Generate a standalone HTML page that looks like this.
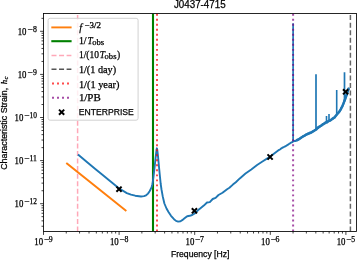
<!DOCTYPE html>
<html><head><meta charset="utf-8"><style>
html,body{margin:0;padding:0;background:#fff;width:357px;height:260px;overflow:hidden}
svg{display:block}
</style></head><body>
<svg width="357" height="260" viewBox="0 0 357 260">
<rect width="357" height="260" fill="#fff"/>
<g clip-path="url(#ax)">
<defs><clipPath id="ax"><rect x="43.5" y="13.5" width="313.0" height="218.0"/></clipPath></defs>
<line x1="77.6" y1="231.5" x2="77.6" y2="13.5" stroke="#ffa8b8" stroke-width="1.5" stroke-dasharray="5 2.55"/>
<line x1="153.0" y1="231.5" x2="153.0" y2="13.5" stroke="#008000" stroke-width="2.1"/>
<line x1="67.0" y1="163.6" x2="125.6" y2="210.3" stroke="#ff7f0e" stroke-width="1.9" stroke-linecap="square"/>
<polyline points="78.00,154.60 86.00,161.30 95.30,169.00 103.00,175.30 110.00,180.90 118.90,188.30 126.80,193.10 131.00,194.70 135.20,195.70 141.00,196.50 144.00,196.10 146.10,195.30 148.00,193.60 149.60,191.30 150.80,189.00 151.60,187.10 152.30,184.50 152.80,182.00 153.50,176.50 154.30,170.00 155.10,162.50 155.90,155.00 156.50,150.00 156.90,148.30 157.30,150.00 157.90,155.00 158.60,162.50 159.30,170.00 160.00,177.00 160.70,184.00 161.50,189.50 162.70,196.20 164.40,203.50 166.50,208.50 168.50,212.00 171.00,215.80 174.00,219.20 176.00,220.90 178.10,221.60 180.50,221.20 183.00,219.60 185.50,217.60 187.20,216.30 189.70,215.80 192.20,215.00 194.70,213.50 198.20,210.10 200.50,208.30 203.80,205.60 207.00,202.50 209.80,202.10 212.70,199.00 215.60,197.90 218.50,195.00 222.50,192.70 227.10,189.20 229.40,187.80 232.90,184.60 235.80,182.30 239.80,178.40 245.50,173.60 251.30,169.40 257.10,165.00 262.80,161.30 267.40,158.40 270.20,156.60 272.90,154.40 277.50,150.90 277.50,150.91 278.10,150.58 278.70,150.08 279.30,149.77 279.90,149.50 280.50,149.12 281.10,148.53 281.70,148.17 282.30,147.77 282.90,147.56 283.50,147.12 284.10,146.92 284.70,146.66 285.30,146.24 285.90,146.03 286.50,145.69 287.10,145.16 287.70,144.91 288.30,144.42 288.90,144.06 289.50,143.62 290.10,143.33 290.70,142.85 291.30,142.44 291.90,142.29 292.50,142.11 293.10,141.41 293.70,141.01 294.30,141.01 294.90,141.20 295.50,141.00 296.10,140.59 296.70,140.50 297.30,140.24 297.90,139.67 298.50,139.16 299.10,139.19 299.70,138.71 300.30,138.15 300.90,137.62 301.50,137.38 302.10,137.04 302.70,136.46 303.30,136.12 303.90,135.94 304.50,136.04 305.10,135.39 305.70,134.70 306.30,134.34 306.90,134.28 307.50,133.71 308.10,133.43 308.70,133.58 309.30,132.73 309.90,133.01 310.50,132.58 311.10,132.77 311.70,132.48 312.30,132.05 312.90,131.70 313.50,130.90 314.10,130.96 314.70,130.15 315.30,130.13 315.90,129.43 316.50,129.11 317.10,127.94 317.70,127.56 318.30,128.07 318.90,126.66 319.50,126.93 320.10,126.49 320.70,126.22 321.30,125.49 321.90,125.29 322.50,124.17 323.10,123.80 323.70,123.59 324.30,123.14 324.90,122.68 325.50,122.33 326.10,122.53 326.70,121.66 327.30,122.41 327.90,121.72 328.50,121.21 329.10,121.13 329.70,120.19 330.30,120.81 330.90,120.33 331.50,119.75 332.10,118.97 332.70,119.05 333.30,118.49 333.90,117.94 334.50,117.87 335.10,116.94 335.70,115.82 336.30,115.34 336.90,114.10 337.50,113.36 338.10,113.36 338.70,112.65 339.30,112.10 339.90,111.12 340.50,109.87 341.10,108.18 341.70,107.43 342.30,106.75 342.90,105.25 343.50,103.40 344.10,101.81 344.70,99.92 345.30,98.31 345.90,96.32 346.50,95.58 347.10,93.33 347.70,90.93 348.30,89.70 348.90,87.57" fill="none" stroke="#1f77b4" stroke-width="1.9" stroke-linejoin="round" stroke-linecap="butt"/><polyline points="296.10,140.48 296.70,140.24 297.30,140.00 297.90,139.76 298.50,139.47 299.10,139.07 299.70,138.67 300.30,138.27 300.90,137.87 301.50,137.47 302.10,137.07 302.70,136.68 303.30,136.34 303.90,135.99 304.50,135.64 305.10,135.29 305.70,134.95 306.30,134.60 306.90,134.34 307.50,134.08 308.10,133.82 308.70,133.56 309.30,133.30 309.90,133.03 310.50,132.77 311.10,132.48 311.70,132.13 312.30,131.78 312.90,131.43 313.50,131.08 314.10,130.73 314.70,130.38 315.30,130.03 315.90,129.68 316.50,129.18 317.10,128.55 317.70,127.92 318.30,127.41 318.90,127.04 319.50,126.66 320.10,126.28 320.70,125.91 321.30,125.53 321.90,125.15 322.50,124.78 323.10,124.40 323.70,124.01 324.30,123.62 324.90,123.24 325.50,122.85 326.10,122.46 326.70,122.10 327.30,121.78 327.90,121.47 328.50,121.15 329.10,120.84 329.70,120.52 330.30,120.21 330.90,119.86 331.50,119.43 332.10,119.00 332.70,118.57 333.30,118.14 333.90,117.71 334.50,117.29 335.10,116.75 335.70,116.01 336.30,115.27 336.90,114.53 337.50,113.79 338.10,113.05 338.70,112.26 339.30,111.44 339.90,110.62 340.50,109.81 341.10,108.75 341.70,107.45 342.30,106.15 342.90,104.85 343.50,103.42 344.10,101.87 344.70,100.31 345.30,98.76 345.90,96.92 346.50,95.03 347.10,93.13 347.70,91.43 348.30,89.82 348.90,88.21" fill="none" stroke="#1f77b4" stroke-width="2.5" stroke-linejoin="round"/><line x1="293.1" y1="141.5" x2="293.1" y2="23.3" stroke="#1f77b4" stroke-width="1.7"/><line x1="316.0" y1="129" x2="316.0" y2="74.3" stroke="#1f77b4" stroke-width="1.7"/><line x1="326.5" y1="122.2" x2="326.5" y2="116.0" stroke="#1f77b4" stroke-width="1.6"/><line x1="329.0" y1="120.8" x2="329.0" y2="114.0" stroke="#1f77b4" stroke-width="1.6"/><line x1="336.7" y1="114.0" x2="336.7" y2="89.9" stroke="#1f77b4" stroke-width="1.6"/><line x1="344.5" y1="101.5" x2="344.5" y2="72.3" stroke="#1f77b4" stroke-width="1.7"/>
<line x1="157.0" y1="231.5" x2="157.0" y2="13.5" stroke="#ff0000" stroke-opacity="0.7" stroke-width="2" stroke-dasharray="1.9 3.12"/>
<line x1="293.1" y1="231.5" x2="293.1" y2="13.5" stroke="#800080" stroke-opacity="0.7" stroke-width="2" stroke-dasharray="1.9 3.12"/>
<line x1="350.4" y1="231.5" x2="350.4" y2="13.5" stroke="#555" stroke-opacity="0.9" stroke-width="1.5" stroke-dasharray="5 2.55"/>
<path d="M116.40,186.60L121.60,191.80M116.40,191.80L121.60,186.60" stroke="#000" stroke-width="2.0" fill="none"/>
<path d="M191.80,208.20L197.00,213.40M191.80,213.40L197.00,208.20" stroke="#000" stroke-width="2.0" fill="none"/>
<path d="M267.50,154.40L272.70,159.60M267.50,159.60L272.70,154.40" stroke="#000" stroke-width="2.0" fill="none"/>
<path d="M343.00,89.20L348.20,94.40M343.00,94.40L348.20,89.20" stroke="#000" stroke-width="2.0" fill="none"/>
</g>
<rect x="43.5" y="13.5" width="313.0" height="218.0" fill="none" stroke="#000" stroke-width="0.85"/>
<path d="M43.50,231.5v3.4M66.26,231.5v2.0M79.57,231.5v2.0M89.02,231.5v2.0M96.34,231.5v2.0M102.33,231.5v2.0M107.39,231.5v2.0M111.77,231.5v2.0M115.64,231.5v2.0M119.10,231.5v3.4M141.86,231.5v2.0M155.17,231.5v2.0M164.62,231.5v2.0M171.94,231.5v2.0M177.93,231.5v2.0M182.99,231.5v2.0M187.37,231.5v2.0M191.24,231.5v2.0M194.70,231.5v3.4M217.46,231.5v2.0M230.77,231.5v2.0M240.22,231.5v2.0M247.54,231.5v2.0M253.53,231.5v2.0M258.59,231.5v2.0M262.97,231.5v2.0M266.84,231.5v2.0M270.30,231.5v3.4M293.06,231.5v2.0M306.37,231.5v2.0M315.82,231.5v2.0M323.14,231.5v2.0M329.13,231.5v2.0M334.19,231.5v2.0M338.57,231.5v2.0M342.44,231.5v2.0M345.90,231.5v3.4M43.5,226.24h-2.0M43.5,220.85h-2.0M43.5,216.67h-2.0M43.5,213.26h-2.0M43.5,210.38h-2.0M43.5,207.88h-2.0M43.5,205.67h-2.0M43.5,203.70h-3.4M43.5,190.73h-2.0M43.5,183.14h-2.0M43.5,177.75h-2.0M43.5,173.57h-2.0M43.5,170.16h-2.0M43.5,167.28h-2.0M43.5,164.78h-2.0M43.5,162.57h-2.0M43.5,160.60h-3.4M43.5,147.63h-2.0M43.5,140.04h-2.0M43.5,134.65h-2.0M43.5,130.47h-2.0M43.5,127.06h-2.0M43.5,124.18h-2.0M43.5,121.68h-2.0M43.5,119.47h-2.0M43.5,117.50h-3.4M43.5,104.53h-2.0M43.5,96.94h-2.0M43.5,91.55h-2.0M43.5,87.37h-2.0M43.5,83.96h-2.0M43.5,81.08h-2.0M43.5,78.58h-2.0M43.5,76.37h-2.0M43.5,74.40h-3.4M43.5,61.43h-2.0M43.5,53.84h-2.0M43.5,48.45h-2.0M43.5,44.27h-2.0M43.5,40.86h-2.0M43.5,37.98h-2.0M43.5,35.48h-2.0M43.5,33.27h-2.0M43.5,31.30h-3.4M43.5,18.33h-2.0" stroke="#000" stroke-width="0.75" fill="none"/>
<text x="34.30" y="244.80" font-size="9.6" font-family='"Liberation Serif","DejaVu Serif",serif' text-anchor="start" textLength="8.80" lengthAdjust="spacingAndGlyphs" stroke="#000" stroke-width="0.25">10</text>
<text x="43.90" y="241.70" font-size="7.6" font-family='"Liberation Serif","DejaVu Serif",serif' text-anchor="start" textLength="5.40" lengthAdjust="spacingAndGlyphs" stroke="#000" stroke-width="0.25">−</text>
<text x="48.80" y="241.70" font-size="7.6" font-family='"Liberation Serif","DejaVu Serif",serif' text-anchor="start" textLength="3.90" lengthAdjust="spacingAndGlyphs" stroke="#000" stroke-width="0.25">9</text>
<text x="109.90" y="244.80" font-size="9.6" font-family='"Liberation Serif","DejaVu Serif",serif' text-anchor="start" textLength="8.80" lengthAdjust="spacingAndGlyphs" stroke="#000" stroke-width="0.25">10</text>
<text x="119.50" y="241.70" font-size="7.6" font-family='"Liberation Serif","DejaVu Serif",serif' text-anchor="start" textLength="5.40" lengthAdjust="spacingAndGlyphs" stroke="#000" stroke-width="0.25">−</text>
<text x="124.40" y="241.70" font-size="7.6" font-family='"Liberation Serif","DejaVu Serif",serif' text-anchor="start" textLength="3.90" lengthAdjust="spacingAndGlyphs" stroke="#000" stroke-width="0.25">8</text>
<text x="185.50" y="244.80" font-size="9.6" font-family='"Liberation Serif","DejaVu Serif",serif' text-anchor="start" textLength="8.80" lengthAdjust="spacingAndGlyphs" stroke="#000" stroke-width="0.25">10</text>
<text x="195.10" y="241.70" font-size="7.6" font-family='"Liberation Serif","DejaVu Serif",serif' text-anchor="start" textLength="5.40" lengthAdjust="spacingAndGlyphs" stroke="#000" stroke-width="0.25">−</text>
<text x="200.00" y="241.70" font-size="7.6" font-family='"Liberation Serif","DejaVu Serif",serif' text-anchor="start" textLength="3.90" lengthAdjust="spacingAndGlyphs" stroke="#000" stroke-width="0.25">7</text>
<text x="261.10" y="244.80" font-size="9.6" font-family='"Liberation Serif","DejaVu Serif",serif' text-anchor="start" textLength="8.80" lengthAdjust="spacingAndGlyphs" stroke="#000" stroke-width="0.25">10</text>
<text x="270.70" y="241.70" font-size="7.6" font-family='"Liberation Serif","DejaVu Serif",serif' text-anchor="start" textLength="5.40" lengthAdjust="spacingAndGlyphs" stroke="#000" stroke-width="0.25">−</text>
<text x="275.60" y="241.70" font-size="7.6" font-family='"Liberation Serif","DejaVu Serif",serif' text-anchor="start" textLength="3.90" lengthAdjust="spacingAndGlyphs" stroke="#000" stroke-width="0.25">6</text>
<text x="336.70" y="244.80" font-size="9.6" font-family='"Liberation Serif","DejaVu Serif",serif' text-anchor="start" textLength="8.80" lengthAdjust="spacingAndGlyphs" stroke="#000" stroke-width="0.25">10</text>
<text x="346.30" y="241.70" font-size="7.6" font-family='"Liberation Serif","DejaVu Serif",serif' text-anchor="start" textLength="5.40" lengthAdjust="spacingAndGlyphs" stroke="#000" stroke-width="0.25">−</text>
<text x="351.20" y="241.70" font-size="7.6" font-family='"Liberation Serif","DejaVu Serif",serif' text-anchor="start" textLength="3.90" lengthAdjust="spacingAndGlyphs" stroke="#000" stroke-width="0.25">5</text>
<text x="32.90" y="31.90" font-size="7.6" font-family='"Liberation Serif","DejaVu Serif",serif' text-anchor="start" textLength="3.90" lengthAdjust="spacingAndGlyphs" stroke="#000" stroke-width="0.25">8</text>
<text x="27.50" y="31.90" font-size="7.6" font-family='"Liberation Serif","DejaVu Serif",serif' text-anchor="start" textLength="5.40" lengthAdjust="spacingAndGlyphs" stroke="#000" stroke-width="0.25">−</text>
<text x="17.70" y="34.90" font-size="9.6" font-family='"Liberation Serif","DejaVu Serif",serif' text-anchor="start" textLength="8.80" lengthAdjust="spacingAndGlyphs" stroke="#000" stroke-width="0.25">10</text>
<text x="32.90" y="75.00" font-size="7.6" font-family='"Liberation Serif","DejaVu Serif",serif' text-anchor="start" textLength="3.90" lengthAdjust="spacingAndGlyphs" stroke="#000" stroke-width="0.25">9</text>
<text x="27.50" y="75.00" font-size="7.6" font-family='"Liberation Serif","DejaVu Serif",serif' text-anchor="start" textLength="5.40" lengthAdjust="spacingAndGlyphs" stroke="#000" stroke-width="0.25">−</text>
<text x="17.70" y="78.00" font-size="9.6" font-family='"Liberation Serif","DejaVu Serif",serif' text-anchor="start" textLength="8.80" lengthAdjust="spacingAndGlyphs" stroke="#000" stroke-width="0.25">10</text>
<text x="29.50" y="118.10" font-size="7.6" font-family='"Liberation Serif","DejaVu Serif",serif' text-anchor="start" textLength="7.40" lengthAdjust="spacingAndGlyphs" stroke="#000" stroke-width="0.25">10</text>
<text x="24.20" y="118.10" font-size="7.6" font-family='"Liberation Serif","DejaVu Serif",serif' text-anchor="start" textLength="5.40" lengthAdjust="spacingAndGlyphs" stroke="#000" stroke-width="0.25">−</text>
<text x="14.60" y="121.10" font-size="9.6" font-family='"Liberation Serif","DejaVu Serif",serif' text-anchor="start" textLength="8.80" lengthAdjust="spacingAndGlyphs" stroke="#000" stroke-width="0.25">10</text>
<text x="29.50" y="161.20" font-size="7.6" font-family='"Liberation Serif","DejaVu Serif",serif' text-anchor="start" textLength="7.40" lengthAdjust="spacingAndGlyphs" stroke="#000" stroke-width="0.25">11</text>
<text x="24.20" y="161.20" font-size="7.6" font-family='"Liberation Serif","DejaVu Serif",serif' text-anchor="start" textLength="5.40" lengthAdjust="spacingAndGlyphs" stroke="#000" stroke-width="0.25">−</text>
<text x="14.60" y="164.20" font-size="9.6" font-family='"Liberation Serif","DejaVu Serif",serif' text-anchor="start" textLength="8.80" lengthAdjust="spacingAndGlyphs" stroke="#000" stroke-width="0.25">10</text>
<text x="29.50" y="204.30" font-size="7.6" font-family='"Liberation Serif","DejaVu Serif",serif' text-anchor="start" textLength="7.40" lengthAdjust="spacingAndGlyphs" stroke="#000" stroke-width="0.25">12</text>
<text x="24.20" y="204.30" font-size="7.6" font-family='"Liberation Serif","DejaVu Serif",serif' text-anchor="start" textLength="5.40" lengthAdjust="spacingAndGlyphs" stroke="#000" stroke-width="0.25">−</text>
<text x="14.60" y="207.30" font-size="9.6" font-family='"Liberation Serif","DejaVu Serif",serif' text-anchor="start" textLength="8.80" lengthAdjust="spacingAndGlyphs" stroke="#000" stroke-width="0.25">10</text>
<text x="173.90" y="8.40" font-size="10.1" font-family='"Liberation Sans","DejaVu Sans",sans-serif' text-anchor="start" textLength="51.80" lengthAdjust="spacingAndGlyphs" stroke="#000" stroke-width="0.25">J0437-4715</text>
<text x="170.90" y="257.30" font-size="8.7" font-family='"Liberation Sans","DejaVu Sans",sans-serif' text-anchor="start" textLength="58.60" lengthAdjust="spacingAndGlyphs" stroke="#000" stroke-width="0.25">Frequency [Hz]</text>
<g transform="translate(7.0,169.8) rotate(-90)"><text x="0.00" y="0.00" font-size="8.6" font-family='"Liberation Sans","DejaVu Sans",sans-serif' text-anchor="start" textLength="82.00" lengthAdjust="spacingAndGlyphs" stroke="#000" stroke-width="0.25">Characteristic Strain,</text><text x="85.60" y="0.00" font-size="9.0" font-family='"Liberation Serif","DejaVu Serif",serif' text-anchor="start" font-style="italic" stroke="#000" stroke-width="0.25">h</text><text x="90.30" y="1.40" font-size="6.6" font-family='"Liberation Serif","DejaVu Serif",serif' text-anchor="start" font-style="italic" stroke="#000" stroke-width="0.25">c</text></g>
<rect x="48.1" y="18.3" width="90.0" height="101.9" rx="2" ry="2" fill="#fff" fill-opacity="0.8" stroke="#cccccc" stroke-width="0.9"/>
<line x1="51.3" y1="27.4" x2="71.6" y2="27.4" stroke="#ff7f0e" stroke-width="1.9"/>
<line x1="51.3" y1="41.2" x2="71.6" y2="41.2" stroke="#008000" stroke-width="2.1"/>
<line x1="51.5" y1="55.4" x2="71.4" y2="55.4" stroke="#ffa8b8" stroke-width="1.5" stroke-dasharray="5 2.55"/>
<line x1="51.5" y1="69.3" x2="71.4" y2="69.3" stroke="#555" stroke-width="1.5" stroke-dasharray="5 2.55"/>
<line x1="52" y1="83.5" x2="71.6" y2="83.5" stroke="#ff0000" stroke-opacity="0.7" stroke-width="2" stroke-dasharray="2 3"/>
<line x1="52" y1="97.7" x2="71.6" y2="97.7" stroke="#800080" stroke-opacity="0.7" stroke-width="2" stroke-dasharray="2 3"/>
<path d="M59.00,109.60L64.20,114.80M59.00,114.80L64.20,109.60" stroke="#000" stroke-width="2.0" fill="none"/>
<text x="79.30" y="30.60" font-size="10.2" font-family='"Liberation Serif","DejaVu Serif",serif' text-anchor="start" font-style="italic" stroke="#000" stroke-width="0.25">f</text>
<text x="84.40" y="28.00" font-size="7.4" font-family='"Liberation Serif","DejaVu Serif",serif' text-anchor="start" textLength="16.60" lengthAdjust="spacingAndGlyphs" stroke="#000" stroke-width="0.25">−3/2</text>
<text x="78.90" y="44.10" font-size="9.8" font-family='"Liberation Serif","DejaVu Serif",serif' text-anchor="start" textLength="7.70" lengthAdjust="spacingAndGlyphs" stroke="#000" stroke-width="0.25">1/</text>
<text x="87.60" y="44.10" font-size="9.8" font-family='"Liberation Serif","DejaVu Serif",serif' text-anchor="start" textLength="5.20" lengthAdjust="spacingAndGlyphs" font-style="italic" stroke="#000" stroke-width="0.25">T</text>
<text x="92.30" y="45.20" font-size="7.6" font-family='"Liberation Serif","DejaVu Serif",serif' text-anchor="start" textLength="11.90" lengthAdjust="spacingAndGlyphs" stroke="#000" stroke-width="0.25">obs</text>
<text x="78.90" y="57.70" font-size="9.8" font-family='"Liberation Serif","DejaVu Serif",serif' text-anchor="start" textLength="20.00" lengthAdjust="spacingAndGlyphs" stroke="#000" stroke-width="0.25">1/(10</text>
<text x="99.70" y="57.70" font-size="9.8" font-family='"Liberation Serif","DejaVu Serif",serif' text-anchor="start" textLength="5.20" lengthAdjust="spacingAndGlyphs" font-style="italic" stroke="#000" stroke-width="0.25">T</text>
<text x="104.60" y="58.80" font-size="7.6" font-family='"Liberation Serif","DejaVu Serif",serif' text-anchor="start" textLength="11.90" lengthAdjust="spacingAndGlyphs" stroke="#000" stroke-width="0.25">obs</text>
<text x="117.00" y="57.70" font-size="9.8" font-family='"Liberation Serif","DejaVu Serif",serif' text-anchor="start" textLength="3.20" lengthAdjust="spacingAndGlyphs" stroke="#000" stroke-width="0.25">)</text>
<text x="78.90" y="73.00" font-size="9.8" font-family='"Liberation Serif","DejaVu Serif",serif' text-anchor="start" textLength="37.20" lengthAdjust="spacingAndGlyphs" stroke="#000" stroke-width="0.25">1/(1 day)</text>
<text x="78.90" y="87.50" font-size="9.8" font-family='"Liberation Serif","DejaVu Serif",serif' text-anchor="start" textLength="40.60" lengthAdjust="spacingAndGlyphs" stroke="#000" stroke-width="0.25">1/(1 year)</text>
<text x="78.90" y="101.30" font-size="9.8" font-family='"Liberation Serif","DejaVu Serif",serif' text-anchor="start" textLength="21.80" lengthAdjust="spacingAndGlyphs" stroke="#000" stroke-width="0.25">1/PB</text>
<text x="78.80" y="114.50" font-size="9.5" font-family='"Liberation Sans","DejaVu Sans",sans-serif' text-anchor="start" textLength="55.00" lengthAdjust="spacingAndGlyphs" stroke="#000" stroke-width="0.25">ENTERPRISE</text>
</svg>
</body></html>
